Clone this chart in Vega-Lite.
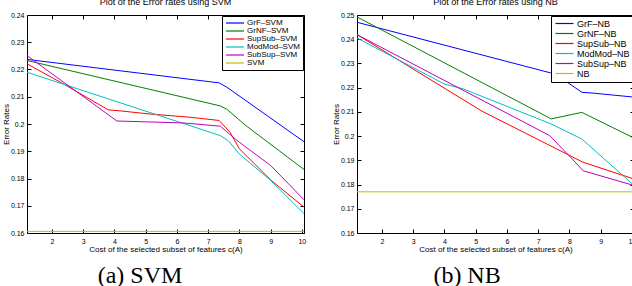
{
  "$schema": "https://vega.github.io/schema/vega-lite/v6.json",
  "padding": {"left": 1, "top": -3, "right": 0, "bottom": 0},
  "spacing": 24,
  "background": "white",
  "config": {
    "view": {"stroke": "black", "strokeWidth": 1},
    "font": "Liberation Sans",
    "axis": {"labelFont": "Liberation Sans", "labelFontSize": 7, "labelColor": "black", "tickColor": "black", "tickSize": -4, "domain": false, "grid": false, "titleFont": "Liberation Sans", "titleFontSize": 8, "titleFontWeight": "normal", "titleColor": "black"},
    "title": {"font": "Liberation Sans", "fontSize": 9, "fontWeight": "normal", "color": "black", "offset": 4},
    "legend": {"fillColor": "white", "strokeColor": "black", "strokeWidth": 1, "padding": 3, "symbolType": "M-1,0H5", "symbolSize": 36, "symbolStrokeWidth": 1.2, "labelFont": "Liberation Sans", "labelColor": "black", "rowPadding": 0, "cornerRadius": 0}
  },
  "datasets": {
    "svm": [
      {"series": "GrF–SVM", "x": 1.2, "y": 0.2237}, {"series": "GrF–SVM", "x": 7.35, "y": 0.2151}, {"series": "GrF–SVM", "x": 7.6, "y": 0.2135}, {"series": "GrF–SVM", "x": 10.07, "y": 0.1935},
      {"series": "GrNF–SVM", "x": 1.2, "y": 0.2233}, {"series": "GrNF–SVM", "x": 7.4, "y": 0.2066}, {"series": "GrNF–SVM", "x": 7.6, "y": 0.2054}, {"series": "GrNF–SVM", "x": 8.2, "y": 0.1995}, {"series": "GrNF–SVM", "x": 10.07, "y": 0.1833},
      {"series": "SupSub–SVM", "x": 1.2, "y": 0.2221}, {"series": "SupSub–SVM", "x": 2.4, "y": 0.2145}, {"series": "SupSub–SVM", "x": 3.8, "y": 0.2052}, {"series": "SupSub–SVM", "x": 4.2, "y": 0.2048}, {"series": "SupSub–SVM", "x": 5.1, "y": 0.2037}, {"series": "SupSub–SVM", "x": 6.4, "y": 0.2025}, {"series": "SupSub–SVM", "x": 7.35, "y": 0.2013}, {"series": "SupSub–SVM", "x": 7.7, "y": 0.197}, {"series": "SupSub–SVM", "x": 8.0, "y": 0.1909}, {"series": "SupSub–SVM", "x": 9.0, "y": 0.1795}, {"series": "SupSub–SVM", "x": 10.07, "y": 0.1695},
      {"series": "ModMod–SVM", "x": 1.2, "y": 0.219}, {"series": "ModMod–SVM", "x": 7.4, "y": 0.1957}, {"series": "ModMod–SVM", "x": 7.65, "y": 0.1938}, {"series": "ModMod–SVM", "x": 8.0, "y": 0.189}, {"series": "ModMod–SVM", "x": 9.0, "y": 0.1793}, {"series": "ModMod–SVM", "x": 10.07, "y": 0.1671},
      {"series": "SubSup–SVM", "x": 1.2, "y": 0.2251}, {"series": "SubSup–SVM", "x": 4.08, "y": 0.2011}, {"series": "SubSup–SVM", "x": 6.2, "y": 0.2004}, {"series": "SubSup–SVM", "x": 7.39, "y": 0.1992}, {"series": "SubSup–SVM", "x": 7.87, "y": 0.1945}, {"series": "SubSup–SVM", "x": 8.0, "y": 0.1933}, {"series": "SubSup–SVM", "x": 9.0, "y": 0.1848}, {"series": "SubSup–SVM", "x": 10.07, "y": 0.1722},
      {"series": "SVM", "x": 1.2, "y": 0.1606}, {"series": "SVM", "x": 10.07, "y": 0.1606}
    ],
    "nb": [
      {"series": "GrF–NB", "x": 1.2, "y": 0.247}, {"series": "GrF–NB", "x": 7.4, "y": 0.2261}, {"series": "GrF–NB", "x": 7.7, "y": 0.2243}, {"series": "GrF–NB", "x": 8.4, "y": 0.2181}, {"series": "GrF–NB", "x": 8.8, "y": 0.2177}, {"series": "GrF–NB", "x": 10.07, "y": 0.2161},
      {"series": "GrNF–NB", "x": 1.2, "y": 0.2492}, {"series": "GrNF–NB", "x": 7.42, "y": 0.2071}, {"series": "GrNF–NB", "x": 8.4, "y": 0.2098}, {"series": "GrNF–NB", "x": 10.07, "y": 0.1992},
      {"series": "SupSub–NB", "x": 1.2, "y": 0.2419}, {"series": "SupSub–NB", "x": 5.2, "y": 0.2103}, {"series": "SupSub–NB", "x": 8.44, "y": 0.1892}, {"series": "SupSub–NB", "x": 10.07, "y": 0.1823},
      {"series": "ModMod–NB", "x": 1.2, "y": 0.2405}, {"series": "ModMod–NB", "x": 4.0, "y": 0.2215}, {"series": "ModMod–NB", "x": 4.6, "y": 0.2195}, {"series": "ModMod–NB", "x": 7.42, "y": 0.205}, {"series": "ModMod–NB", "x": 8.4, "y": 0.1988}, {"series": "ModMod–NB", "x": 10.07, "y": 0.1796},
      {"series": "SubSup–NB", "x": 1.2, "y": 0.2419}, {"series": "SubSup–NB", "x": 7.37, "y": 0.2002}, {"series": "SubSup–NB", "x": 8.06, "y": 0.191}, {"series": "SubSup–NB", "x": 8.44, "y": 0.1857}, {"series": "SubSup–NB", "x": 10.07, "y": 0.1796},
      {"series": "NB", "x": 1.2, "y": 0.177}, {"series": "NB", "x": 10.07, "y": 0.177}
    ]
  },
  "hconcat": [
    {
      "title": {"text": "(a) SVM", "orient": "bottom", "anchor": "middle", "font": "Liberation Serif", "fontSize": 24, "fontWeight": "normal", "offset": 10, "dx": -14},
      "resolve": {"legend": {"color": "independent"}},
      "vconcat": [
        {
          "title": {"text": "Plot of the Error rates using SVM", "anchor": "middle"},
          "width": 277, "height": 218,
          "data": {"name": "svm"},
          "layer": [
            {
              "mark": {"type": "line", "strokeWidth": 1, "clip": true},
              "encoding": {
                "x": {"field": "x", "type": "quantitative", "scale": {"domain": [1.2, 10.07], "nice": false, "zero": false}, "axis": {"values": [2, 3, 4, 5, 6, 7, 8, 9, 10], "title": "Cost of the selected subset of features c(A)", "labelPadding": 8, "titlePadding": 1}},
                "y": {"field": "y", "type": "quantitative", "scale": {"domain": [0.16, 0.24], "nice": false, "zero": false}, "axis": {"values": [0.16, 0.17, 0.18, 0.19, 0.2, 0.21, 0.22, 0.23, 0.24], "format": ".2~f", "title": "Error Rates", "labelPadding": 7, "titlePadding": 0}},
                "color": {"field": "series", "type": "nominal", "sort": ["GrF–SVM", "GrNF–SVM", "SupSub–SVM", "ModMod–SVM", "SubSup–SVM", "SVM"], "scale": {"domain": ["GrF–SVM", "GrNF–SVM", "SupSub–SVM", "ModMod–SVM", "SubSup–SVM", "SVM"], "range": ["#0000ff", "#008000", "#ff0000", "#00bfbf", "#bf00bf", "#bfbf00"]}, "legend": {"title": null, "orient": "top-right", "offset": 1, "labelFontSize": 8, "labelOffset": 14, "rowPadding": 0}}
              }
            },
            {
              "mark": {"type": "line", "strokeOpacity": 0},
              "encoding": {
                "x": {"field": "x", "type": "quantitative", "axis": {"orient": "top", "values": [2, 3, 4, 5, 6, 7, 8, 9, 10], "labels": false, "title": null}},
                "y": {"field": "y", "type": "quantitative", "axis": {"orient": "right", "values": [0.16, 0.17, 0.18, 0.19, 0.2, 0.21, 0.22, 0.23, 0.24], "labels": false, "title": null}}
              }
            }
          ],
          "resolve": {"axis": {"x": "independent", "y": "independent"}}
        }
      ]
    },
    {
      "title": {"text": "(b) NB", "orient": "bottom", "anchor": "middle", "font": "Liberation Serif", "fontSize": 24, "fontWeight": "normal", "offset": 10, "dx": -17},
      "resolve": {"legend": {"color": "independent"}},
      "vconcat": [
        {
          "title": {"text": "Plot of the Error rates using NB", "anchor": "middle"},
          "width": 277, "height": 218,
          "data": {"name": "nb"},
          "layer": [
            {
              "mark": {"type": "line", "strokeWidth": 1, "clip": true},
              "encoding": {
                "x": {"field": "x", "type": "quantitative", "scale": {"domain": [1.2, 10.07], "nice": false, "zero": false}, "axis": {"values": [2, 3, 4, 5, 6, 7, 8, 9, 10], "title": "Cost of the selected subset of features c(A)", "labelPadding": 8, "titlePadding": 1}},
                "y": {"field": "y", "type": "quantitative", "scale": {"domain": [0.16, 0.25], "nice": false, "zero": false}, "axis": {"values": [0.16, 0.17, 0.18, 0.19, 0.2, 0.21, 0.22, 0.23, 0.24, 0.25], "format": ".2~f", "title": "Error Rates", "labelPadding": 7, "titlePadding": 0}},
                "color": {"field": "series", "type": "nominal", "sort": ["GrF–NB", "GrNF–NB", "SupSub–NB", "ModMod–NB", "SubSup–NB", "NB"], "scale": {"domain": ["GrF–NB", "GrNF–NB", "SupSub–NB", "ModMod–NB", "SubSup–NB", "NB"], "range": ["#0000ff", "#008000", "#ff0000", "#00bfbf", "#bf00bf", "#bfbf00"]}, "legend": {"title": null, "orient": "top-right", "offset": 1, "labelFontSize": 9, "labelOffset": 14, "rowPadding": 0}}
              }
            },
            {
              "mark": {"type": "line", "strokeOpacity": 0},
              "encoding": {
                "x": {"field": "x", "type": "quantitative", "axis": {"orient": "top", "values": [2, 3, 4, 5, 6, 7, 8, 9, 10], "labels": false, "title": null}},
                "y": {"field": "y", "type": "quantitative", "axis": {"orient": "right", "values": [0.16, 0.17, 0.18, 0.19, 0.2, 0.21, 0.22, 0.23, 0.24, 0.25], "labels": false, "title": null}}
              }
            }
          ],
          "resolve": {"axis": {"x": "independent", "y": "independent"}}
        }
      ]
    }
  ],
  "resolve": {"scale": {"color": "independent"}, "legend": {"color": "independent"}}
}
